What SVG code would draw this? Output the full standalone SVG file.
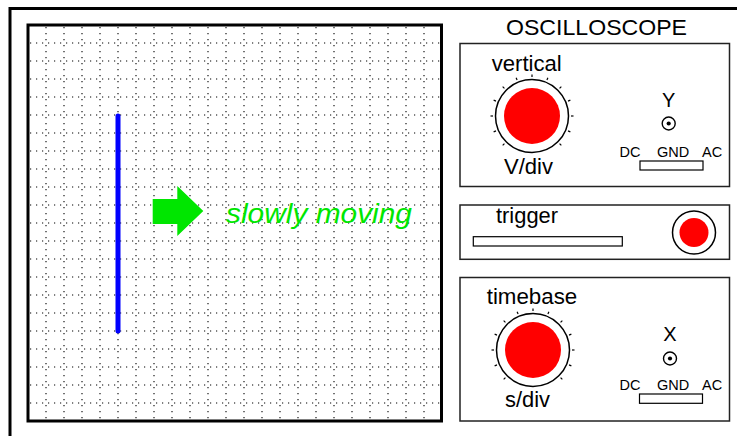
<svg xmlns="http://www.w3.org/2000/svg" xmlns:xlink="http://www.w3.org/1999/xlink" width="737" height="436" viewBox="0 0 737 436">
<style>
text{font-family:"Liberation Sans",Arial,sans-serif;fill:#000}
.panel{fill:#fff;stroke:#222;stroke-width:1.5}
.grid line{stroke:#000;stroke-width:1.1;stroke-dasharray:1.2 4.8}
.sw{fill:#fff;stroke:#000;stroke-width:1.2}
.lbl{font-size:21.5px}
.small{font-size:14.5px}
</style>
<defs>
<line id="tick" x1="39" y1="0" x2="41.5" y2="0" stroke="#000" stroke-width="1.2"/>
<g id="knob">
<circle r="36.5" fill="#fff" stroke="#000" stroke-width="1.5"/>
<circle r="28" fill="#ff0000"/>
<use xlink:href="#tick" transform="rotate(45)"/>
<use xlink:href="#tick" transform="rotate(22.5)"/>
<use xlink:href="#tick" transform="rotate(0)"/>
<use xlink:href="#tick" transform="rotate(-22.5)"/>
<use xlink:href="#tick" transform="rotate(-45)"/>
<use xlink:href="#tick" transform="rotate(-67.5)"/>
<use xlink:href="#tick" transform="rotate(-90)"/>
<use xlink:href="#tick" transform="rotate(-112.5)"/>
<use xlink:href="#tick" transform="rotate(-135)"/>
<use xlink:href="#tick" transform="rotate(-157.5)"/>
<use xlink:href="#tick" transform="rotate(180)"/>
<use xlink:href="#tick" transform="rotate(157.5)"/>
<use xlink:href="#tick" transform="rotate(135)"/>
</g>
<g id="jack">
<circle r="6.5" fill="#fff" stroke="#000" stroke-width="1.4"/>
<circle r="2.1" fill="#000"/>
</g>
</defs>
<rect width="737" height="436" fill="#fff"/>
<rect id="frame" x="10" y="8.5" width="740" height="440" fill="none" stroke="#000" stroke-width="3"/>
<g id="screen">
<rect x="28" y="25" width="413.5" height="396" fill="#fff" stroke="#000" stroke-width="3"/>
<g class="grid">
<line x1="46" y1="27" x2="46" y2="420"/><line x1="64" y1="27" x2="64" y2="420"/><line x1="82" y1="27" x2="82" y2="420"/><line x1="100" y1="27" x2="100" y2="420"/><line x1="118" y1="27" x2="118" y2="420"/><line x1="136" y1="27" x2="136" y2="420"/><line x1="154" y1="27" x2="154" y2="420"/><line x1="172" y1="27" x2="172" y2="420"/><line x1="190" y1="27" x2="190" y2="420"/><line x1="208" y1="27" x2="208" y2="420"/><line x1="226" y1="27" x2="226" y2="420"/><line x1="244" y1="27" x2="244" y2="420"/><line x1="262" y1="27" x2="262" y2="420"/><line x1="280" y1="27" x2="280" y2="420"/><line x1="298" y1="27" x2="298" y2="420"/><line x1="316" y1="27" x2="316" y2="420"/><line x1="334" y1="27" x2="334" y2="420"/><line x1="352" y1="27" x2="352" y2="420"/><line x1="370" y1="27" x2="370" y2="420"/><line x1="388" y1="27" x2="388" y2="420"/><line x1="406" y1="27" x2="406" y2="420"/><line x1="424" y1="27" x2="424" y2="420"/>
<line x1="30" y1="43" x2="440" y2="43"/><line x1="30" y1="61" x2="440" y2="61"/><line x1="30" y1="79" x2="440" y2="79"/><line x1="30" y1="97" x2="440" y2="97"/><line x1="30" y1="115" x2="440" y2="115"/><line x1="30" y1="133" x2="440" y2="133"/><line x1="30" y1="151" x2="440" y2="151"/><line x1="30" y1="169" x2="440" y2="169"/><line x1="30" y1="187" x2="440" y2="187"/><line x1="30" y1="205" x2="440" y2="205"/><line x1="30" y1="223" x2="440" y2="223"/><line x1="30" y1="241" x2="440" y2="241"/><line x1="30" y1="259" x2="440" y2="259"/><line x1="30" y1="277" x2="440" y2="277"/><line x1="30" y1="295" x2="440" y2="295"/><line x1="30" y1="313" x2="440" y2="313"/><line x1="30" y1="331" x2="440" y2="331"/><line x1="30" y1="349" x2="440" y2="349"/><line x1="30" y1="367" x2="440" y2="367"/><line x1="30" y1="385" x2="440" y2="385"/><line x1="30" y1="403" x2="440" y2="403"/>
</g>
<line id="trace" x1="118" y1="116" x2="118" y2="331" stroke="#0000ff" stroke-width="5" stroke-linecap="round"/>
<polygon id="arrow" points="152.7,199 177.3,199 177.3,186 203.3,211 177.3,236 177.3,224 152.7,224" fill="#00e600"/>
<text x="226" y="223.3" font-size="28" font-style="italic" style="fill:#00e600" textLength="186" lengthAdjust="spacingAndGlyphs">slowly moving</text>
</g>
<text x="506" y="34.7" font-size="21.5" textLength="181" lengthAdjust="spacingAndGlyphs">OSCILLOSCOPE</text>
<g id="vertical-panel">
<rect class="panel" x="460" y="43.5" width="269.5" height="143"/>
<text class="lbl" x="491.7" y="70.7" textLength="70" lengthAdjust="spacingAndGlyphs">vertical</text>
<use xlink:href="#knob" x="532" y="116"/>
<text class="lbl" x="504" y="174" textLength="49" lengthAdjust="spacingAndGlyphs">V/div</text>
<text x="668.7" y="106.7" font-size="20" text-anchor="middle">Y</text>
<use xlink:href="#jack" x="668.7" y="123.5"/>
<text class="small" x="619.5" y="156.7">DC</text>
<text class="small" x="657" y="156.7">GND</text>
<text class="small" x="702" y="156.7">AC</text>
<rect class="sw" x="640" y="161" width="63" height="9"/>
</g>
<g id="trigger-panel">
<rect class="panel" x="460" y="205" width="269.5" height="54.3"/>
<text class="lbl" x="496" y="223.3" textLength="62" lengthAdjust="spacingAndGlyphs">trigger</text>
<rect class="sw" x="473.3" y="236.7" width="149" height="9.3"/>
<circle cx="694" cy="232.5" r="21.5" fill="#fff" stroke="#000" stroke-width="1.5"/>
<circle cx="694" cy="232.5" r="14.5" fill="#ff0000"/>
</g>
<g id="timebase-panel">
<rect class="panel" x="460" y="277.5" width="269.5" height="143.5"/>
<text class="lbl" x="486.7" y="304.3" textLength="90.6" lengthAdjust="spacingAndGlyphs">timebase</text>
<use xlink:href="#knob" x="533" y="350"/>
<text class="lbl" x="505" y="406.7" textLength="45" lengthAdjust="spacingAndGlyphs">s/div</text>
<text x="670" y="340.7" font-size="20" text-anchor="middle">X</text>
<use xlink:href="#jack" x="670" y="358.5"/>
<text class="small" x="619.5" y="390">DC</text>
<text class="small" x="657" y="390">GND</text>
<text class="small" x="702" y="390">AC</text>
<rect class="sw" x="639.5" y="394" width="63" height="9.3"/>
</g>
</svg>
